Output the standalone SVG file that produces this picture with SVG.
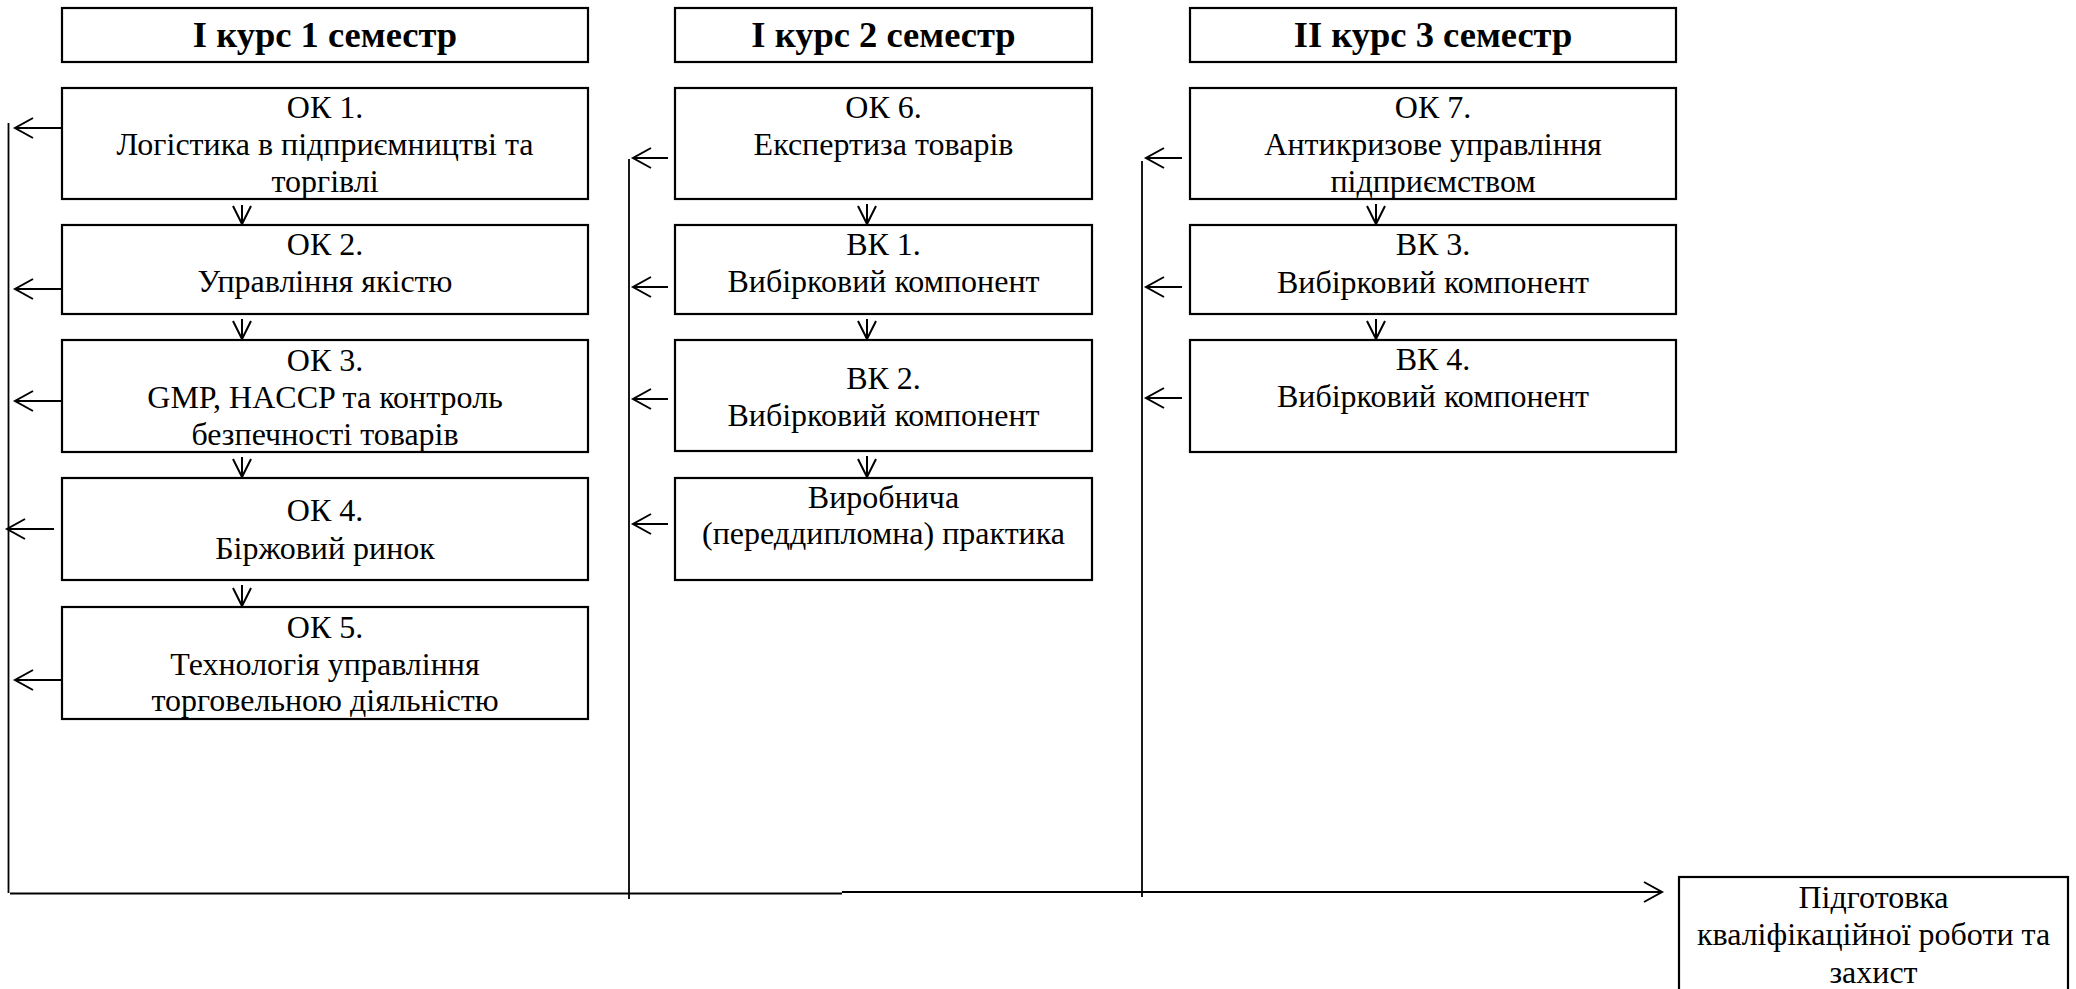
<svg xmlns="http://www.w3.org/2000/svg" width="2076" height="989" viewBox="0 0 2076 989">
<defs>
<style>
.box{fill:#fff;stroke:#000;stroke-width:2.2}
.t{font-family:"Liberation Serif","Times New Roman",serif;font-size:32px;fill:#000;text-anchor:middle}
.h{font-family:"Liberation Serif","Times New Roman",serif;font-size:36.5px;font-weight:bold;fill:#000;text-anchor:middle}
.c{fill:none;stroke:#000;stroke-width:2}
.v{fill:none;stroke:#000;stroke-width:1.8}
</style>
<marker id="ah" viewBox="0 0 20 22" refX="18" refY="10" markerWidth="20" markerHeight="22" markerUnits="userSpaceOnUse" orient="auto" overflow="visible">
<path d="M0,0 L18,10 L0,20" fill="none" stroke="#000" stroke-width="2"/>
</marker>
<marker id="ad" viewBox="0 0 20 20" refX="18" refY="9" markerWidth="20" markerHeight="20" markerUnits="userSpaceOnUse" orient="auto" overflow="visible">
<path d="M0,0 L18,9 L0,18" fill="none" stroke="#000" stroke-width="2"/>
</marker>
</defs>
<rect width="2076" height="989" fill="#fff"/>

<g id="header1"><rect class="box" x="62" y="8" width="526" height="54"/><text class="h" x="325" y="47">І курс 1 семестр</text></g>
<g id="header2"><rect class="box" x="675" y="8" width="417" height="54"/><text class="h" x="883.5" y="47">І курс 2 семестр</text></g>
<g id="header3"><rect class="box" x="1190" y="8" width="486" height="54"/><text class="h" x="1433" y="47">ІІ курс 3 семестр</text></g>

<g id="ok1"><rect class="box" x="62" y="88" width="526" height="111"/><text class="t" x="325" y="118">ОК 1.</text><text class="t" x="325" y="155">Логістика в підприємництві та</text><text class="t" x="325" y="192">торгівлі</text></g>
<g id="ok2"><rect class="box" x="62" y="225" width="526" height="89"/><text class="t" x="325" y="255">ОК 2.</text><text class="t" x="325" y="292">Управління якістю</text></g>
<g id="ok3"><rect class="box" x="62" y="340" width="526" height="112"/><text class="t" x="325" y="371">ОК 3.</text><text class="t" x="325" y="408">GMP, HACCP та контроль</text><text class="t" x="325" y="445">безпечності товарів</text></g>
<g id="ok4"><rect class="box" x="62" y="478" width="526" height="102"/><text class="t" x="325" y="521">ОК 4.</text><text class="t" x="325" y="559">Біржовий ринок</text></g>
<g id="ok5"><rect class="box" x="62" y="607" width="526" height="112"/><text class="t" x="325" y="638">ОК 5.</text><text class="t" x="325" y="675">Технологія управління</text><text class="t" x="325" y="711">торговельною діяльністю</text></g>

<g id="ok6"><rect class="box" x="675" y="88" width="417" height="111"/><text class="t" x="883.5" y="118">ОК 6.</text><text class="t" x="883.5" y="155">Експертиза товарів</text></g>
<g id="vk1"><rect class="box" x="675" y="225" width="417" height="89"/><text class="t" x="883.5" y="255">ВК 1.</text><text class="t" x="883.5" y="292">Вибірковий компонент</text></g>
<g id="vk2"><rect class="box" x="675" y="340" width="417" height="111"/><text class="t" x="883.5" y="389">ВК 2.</text><text class="t" x="883.5" y="426">Вибірковий компонент</text></g>
<g id="practice"><rect class="box" x="675" y="478" width="417" height="102"/><text class="t" x="883.5" y="508">Виробнича</text><text class="t" x="883.5" y="544">(переддипломна) практика</text></g>

<g id="ok7"><rect class="box" x="1190" y="88" width="486" height="111"/><text class="t" x="1433" y="118">ОК 7.</text><text class="t" x="1433" y="155">Антикризове управління</text><text class="t" x="1433" y="192">підприємством</text></g>
<g id="vk3"><rect class="box" x="1190" y="225" width="486" height="89"/><text class="t" x="1433" y="255">ВК 3.</text><text class="t" x="1433" y="293">Вибірковий компонент</text></g>
<g id="vk4"><rect class="box" x="1190" y="340" width="486" height="112"/><text class="t" x="1433" y="370">ВК 4.</text><text class="t" x="1433" y="407">Вибірковий компонент</text></g>

<g id="final"><rect class="box" x="1679" y="877" width="389" height="120"/><text class="t" x="1873.5" y="908">Підготовка</text><text class="t" x="1873.5" y="945">кваліфікаційної роботи та</text><text class="t" x="1873.5" y="983">захист</text></g>

<g id="connectors">
<path class="v" d="M8.5,123 V893"/>
<path class="v" d="M629,159 V899"/>
<path class="v" d="M1142,161 V897"/>
<path class="c" d="M62,128 H15" marker-end="url(#ah)"/>
<path class="c" d="M62,289 H15" marker-end="url(#ah)"/>
<path class="c" d="M62,401 H15" marker-end="url(#ah)"/>
<path class="c" d="M54,529 H7" marker-end="url(#ah)"/>
<path class="c" d="M62,680 H15" marker-end="url(#ah)"/>
<path class="c" d="M668,158 H633" marker-end="url(#ah)"/>
<path class="c" d="M668,287 H633" marker-end="url(#ah)"/>
<path class="c" d="M668,399 H633" marker-end="url(#ah)"/>
<path class="c" d="M668,524 H633" marker-end="url(#ah)"/>
<path class="c" d="M1182,158 H1146" marker-end="url(#ah)"/>
<path class="c" d="M1182,287 H1146" marker-end="url(#ah)"/>
<path class="c" d="M1182,398 H1146" marker-end="url(#ah)"/>
<path class="c" d="M10,893.5 H842"/>
<path class="c" d="M842,892 H1662" marker-end="url(#ah)"/>
<path class="c" d="M242,205 V224" marker-end="url(#ad)"/>
<path class="c" d="M242,319 V339" marker-end="url(#ad)"/>
<path class="c" d="M242,457 V477" marker-end="url(#ad)"/>
<path class="c" d="M242,585 V606" marker-end="url(#ad)"/>
<path class="c" d="M867,204 V224" marker-end="url(#ad)"/>
<path class="c" d="M867,319 V339" marker-end="url(#ad)"/>
<path class="c" d="M867,456 V477" marker-end="url(#ad)"/>
<path class="c" d="M1376,204 V224" marker-end="url(#ad)"/>
<path class="c" d="M1376,319 V339" marker-end="url(#ad)"/>
</g>
</svg>
